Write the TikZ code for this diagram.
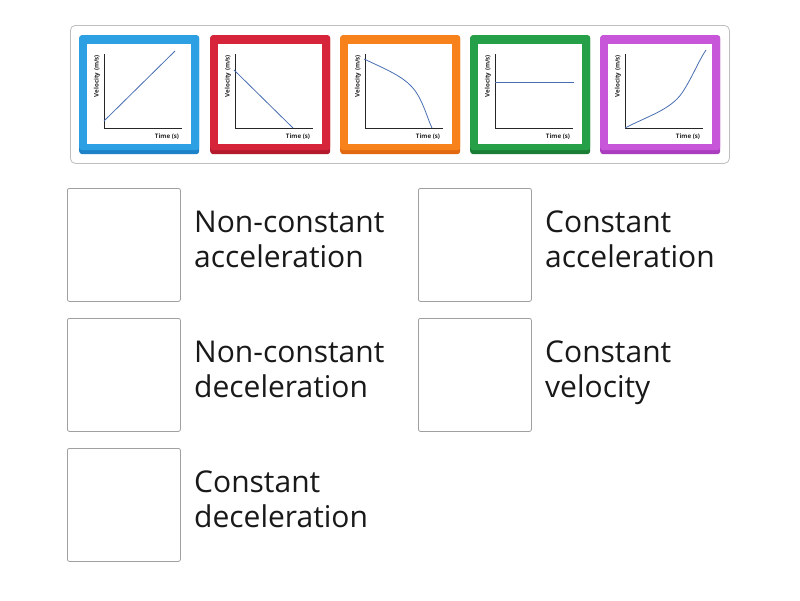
\documentclass[tikz,border=0pt]{standalone}
\usepackage{fontspec}
\setmainfont{Open Sans}
\definecolor{cblue}{RGB}{45,160,228}
\definecolor{cbluedk}{RGB}{30,130,200}
\definecolor{cred}{RGB}{214,36,58}
\definecolor{creddk}{RGB}{180,25,45}
\definecolor{corange}{RGB}{247,130,28}
\definecolor{corangedk}{RGB}{225,105,15}
\definecolor{cgreen}{RGB}{38,160,72}
\definecolor{cgreendk}{RGB}{25,125,52}
\definecolor{cpurple}{RGB}{200,86,216}
\definecolor{cpurpledk}{RGB}{170,60,190}
\definecolor{curve}{RGB}{72,110,178}
\definecolor{boxgray}{RGB}{160,160,160}
\definecolor{framegray}{RGB}{190,190,190}
\definecolor{txt}{RGB}{25,25,25}
\tikzset{
  cardouter/.style={rounded corners=3pt, inner sep=0pt, minimum width=120pt, minimum height=119pt, anchor=north west},
  cardtop/.style={rounded corners=3pt, inner sep=0pt, minimum width=120pt, minimum height=115pt, anchor=north west},
  cardinner/.style={fill=white, inner sep=0pt, minimum width=104pt, minimum height=100pt, anchor=north west},
  axis/.style={black!85, line width=0.8pt},
  graphline/.style={curve, line width=0.8pt},
  tiny/.style={font=\fontsize{6.2}{7}\selectfont\bfseries, text=black!85, inner sep=0pt},
  answerbox/.style={draw=boxgray, fill=white, line width=0.8pt, rounded corners=2pt, minimum width=113pt, minimum height=113pt, inner sep=0pt, anchor=north west},
  answertext/.style={font=\fontsize{30}{35}\selectfont, text=txt, align=left, anchor=base west, inner sep=0pt},
}
\newcommand\drawcard[4]{%
  \begin{scope}[shift={(#2,0)}]
    \node[cardouter, fill=#4] (#1) at (0,35) {};
    \node[cardtop, fill=#3] (#1top) at (0,35) {};
    \node[cardinner] (#1in) at (8,44) {};
    \coordinate (#1o) at (25,128);
    \coordinate (#1y) at (25,54);
    \coordinate (#1x) at (103,128);
    \draw[axis] (#1y) -- (#1o) -- (#1x);
    \node[tiny, rotate=90] (#1vl) at (18,76) {Velocity (m/s)};
    \node[tiny] (#1tl) at (88,137) {Time (s)};
  \end{scope}}
\begin{document}
\begin{tikzpicture}[x=1pt,y=-1pt]
\useasboundingbox[fill=white] (0,0) rectangle (800,600);
\node[draw=framegray, line width=0.8pt, rounded corners=5pt, minimum width=659pt, minimum height=138pt, inner sep=0pt, anchor=north west] (frame) at (70,25) {};
\drawcard{c1}{79}{cblue}{cbluedk}
\drawcard{c2}{210}{cred}{creddk}
\drawcard{c3}{340}{corange}{corangedk}
\drawcard{c4}{470}{cgreen}{cgreendk}
\drawcard{c5}{600}{cpurple}{cpurpledk}
% graph lines
\draw[graphline] (104,121) -- (175,51);
\draw[graphline] (234,70) -- (293,128);
\draw[graphline] (364,59) .. controls (392,72) and (406,78) .. (416,92) .. controls (424,104) and (428,120) .. (432,128);
\draw[graphline] (495,82) -- (574,82);
\draw[graphline] (625,128) .. controls (648,116) and (670,110) .. (682,93) .. controls (692,78) and (699,60) .. (706,50);
% answer boxes
\node[answerbox] (b1) at (67,188) {};
\node[answerbox] (b2) at (418,188) {};
\node[answerbox] (b3) at (67,318) {};
\node[answerbox] (b4) at (418,318) {};
\node[answerbox] (b5) at (67,448) {};
\node[answertext] (t1) at (194,267) {Non-constant\\acceleration};
\node[answertext] (t2) at (545,267) {Constant\\acceleration};
\node[answertext] (t3) at (194,397) {Non-constant\\deceleration};
\node[answertext] (t4) at (545,397) {Constant\\velocity};
\node[answertext] (t5) at (194,527) {Constant\\deceleration};
\end{tikzpicture}
\end{document}
